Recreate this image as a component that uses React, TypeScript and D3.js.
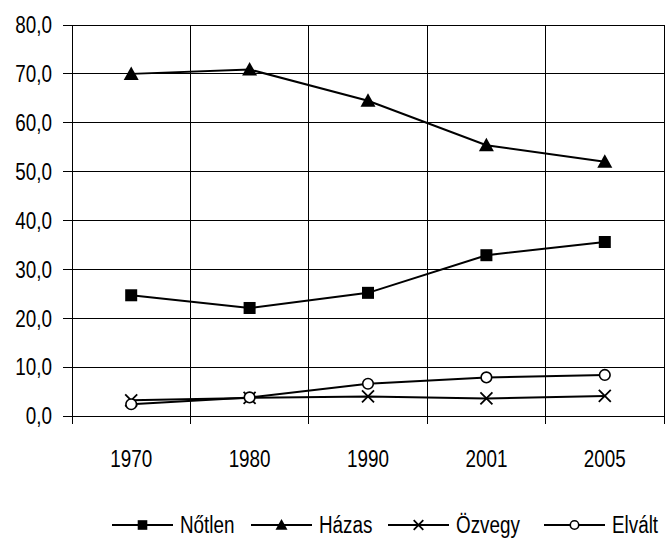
import React from "react";
import * as d3 from "d3";

const years = ["1970", "1980", "1990", "2001", "2005"];
const notlen = [24.7, 22.1, 25.2, 32.9, 35.6];
const hazas = [70.0, 70.9, 64.5, 55.4, 52.0];
const ozvegy = [3.2, 3.7, 4.0, 3.6, 4.1];
const elvalt = [2.4, 3.8, 6.6, 7.9, 8.4];
const seriesNames = ["Nőtlen", "Házas", "Özvegy", "Elvált"];
const yTicks = [0, 10, 20, 30, 40, 50, 60, 70, 80];

const W = 665;
const H = 543;
const left = 72;
const right = 664;
const top = 25;
const bottom = 416;
const FONT = "'Liberation Sans', Arial, sans-serif";
const SX = 0.82;

function NText({ x, y, anchor, children }: { x: number; y: number; anchor?: string; children: React.ReactNode }) {
  return (
    <text
      transform={`translate(${x},${y}) scale(${SX},1)`}
      textAnchor={anchor || "start"}
      fontFamily={FONT}
      fontSize={23}
      fill="#000"
    >
      {children}
    </text>
  );
}

function Marker({ type, x, y, s = 1 }: { type: string; x: number; y: number; s?: number }) {
  if (type === "square") {
    return <rect x={x - 6 * s} y={y - 6 * s} width={12 * s} height={12 * s} fill="#000" />;
  }
  if (type === "triangle") {
    return <path d={`M${x},${y - 7.5 * s}L${x + 7.5 * s},${y + 6 * s}L${x - 7.5 * s},${y + 6 * s}Z`} fill="#000" />;
  }
  if (type === "x") {
    const r = 6 * s;
    return (
      <path
        d={`M${x - r},${y - r}L${x + r},${y + r}M${x + r},${y - r}L${x - r},${y + r}`}
        stroke="#000"
        strokeWidth={1.8}
        fill="none"
      />
    );
  }
  return <circle cx={x} cy={y} r={5.3 * s} fill="#fff" stroke="#000" strokeWidth={1.6} />;
}

export default function App() {
  const x = d3.scaleBand<string>().domain(years).range([left, right]);
  const y = d3.scaleLinear().domain([0, 80]).range([bottom, top]);
  const series = [
    { name: seriesNames[0], values: notlen, marker: "square" },
    { name: seriesNames[1], values: hazas, marker: "triangle" },
    { name: seriesNames[2], values: ozvegy, marker: "x" },
    { name: seriesNames[3], values: elvalt, marker: "circle" },
  ];
  const line = d3
    .line<number>()
    .x((_, i) => (x(years[i]) as number) + x.bandwidth() / 2)
    .y((d) => y(d));
  const boundaries = [...years.map((yr) => x(yr) as number), right];

  const legendPos = [
    { lx: 112, tx: 180 },
    { lx: 251, tx: 319 },
    { lx: 388, tx: 456 },
    { lx: 544, tx: 612 },
  ];
  const legendY = 525;

  return (
    <svg width={W} height={H} style={{ position: "absolute", left: 0, top: 0, background: "#fff" }}>
      <rect x={0} y={0} width={W} height={H} fill="#fff" />
      {yTicks.map((t) => (
        <line key={"h" + t} x1={left - 9} x2={right} y1={y(t)} y2={y(t)} stroke="#000" strokeWidth={1} shapeRendering="crispEdges" />
      ))}
      {boundaries.map((b, i) => (
        <line key={"v" + i} x1={b} x2={b} y1={top} y2={bottom + 8} stroke="#000" strokeWidth={1} shapeRendering="crispEdges" />
      ))}
      {yTicks.map((t) => (
        <NText key={"yl" + t} x={52} y={y(t) + 8.3} anchor="end">
          {t.toFixed(1).replace(".", ",")}
        </NText>
      ))}
      {years.map((yr) => (
        <NText key={"xl" + yr} x={(x(yr) as number) + x.bandwidth() / 2} y={466.5} anchor="middle">
          {yr}
        </NText>
      ))}
      {series.map((s) => (
        <g key={s.name}>
          <path d={line(s.values) || ""} fill="none" stroke="#000" strokeWidth={2} />
          {s.values.map((v, i) => (
            <Marker key={i} type={s.marker} x={(x(years[i]) as number) + x.bandwidth() / 2} y={y(v)} />
          ))}
        </g>
      ))}
      {series.map((s, i) => (
        <g key={"lg" + s.name}>
          <line x1={legendPos[i].lx} x2={legendPos[i].lx + 61} y1={legendY} y2={legendY} stroke="#000" strokeWidth={2} />
          <Marker type={s.marker} x={legendPos[i].lx + 30.5} y={legendY} s={0.8} />
          <NText x={legendPos[i].tx} y={legendY + 8.3}>
            {s.name}
          </NText>
        </g>
      ))}
    </svg>
  );
}
